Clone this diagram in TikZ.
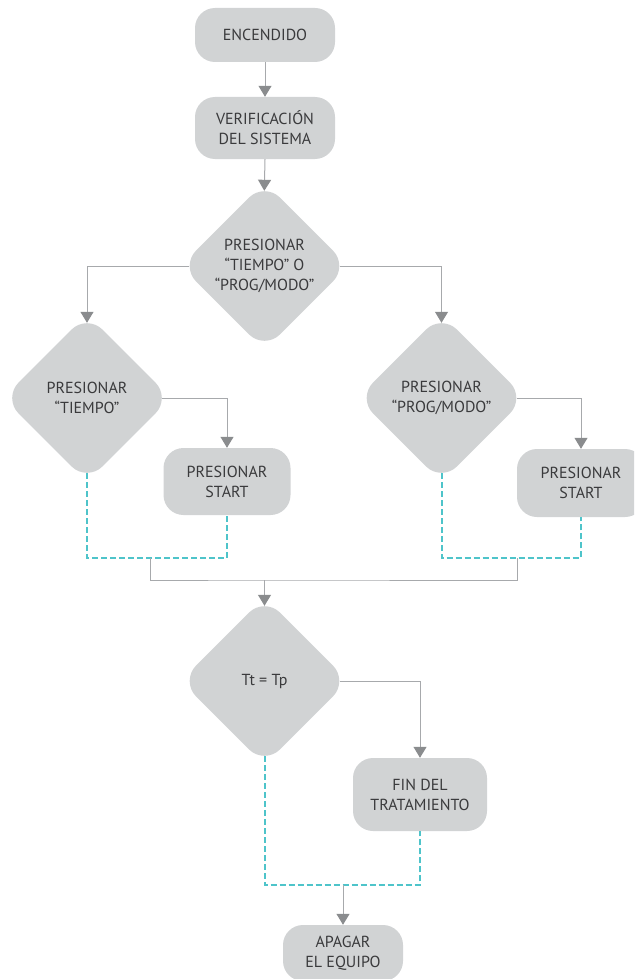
\documentclass[tikz,border=0pt]{standalone}
\usepackage{fontspec}
\setmainfont{PT Sans}
\usetikzlibrary{shapes.geometric,arrows.meta}
\definecolor{boxfill}{HTML}{D1D3D4}
\definecolor{linegray}{HTML}{A7A9AC}
\definecolor{headgray}{HTML}{8A8C8E}
\definecolor{loopteal}{HTML}{4EC4CA}
\definecolor{txt}{HTML}{3A3A3C}
\begin{document}
\begin{tikzpicture}[x=1pt,y=-1pt,
  every node/.style={text=txt, font=\fontsize{16}{20}\selectfont, align=center},
  stepbox/.style={rectangle, rounded corners=20pt, fill=boxfill, inner sep=0pt},
  choice/.style={diamond, aspect=1, rounded corners=22pt, fill=boxfill,
    minimum width=168pt, minimum height=168pt, inner sep=0pt},
  flow/.style={draw=linegray, line width=1pt,
    -{Triangle[width=13pt,length=11pt,color=headgray]}},
  wire/.style={draw=linegray, line width=1pt},
  back/.style={draw=loopteal, line width=2pt, dash pattern=on 6pt off 3pt},
  fromtip/.style={shorten <=-9pt},
  totip/.style={shorten >=-9pt},
]
\clip (0,0) rectangle (634,979);

% steps and decisions
\node[stepbox, minimum width=140pt, minimum height=54pt] (enc) at (265,35) {ENCENDIDO};
\node[stepbox, minimum width=140pt, minimum height=62pt] (ver) at (265,128) {VERIFICACIÓN\\DEL SISTEMA};
\node[choice] (d1) at (264.5,266) {PRESIONAR\\“TIEMPO” O\\“PROG/MODO”};
\node[choice] (d2) at (87,398) {PRESIONAR\\“TIEMPO”};
\node[choice] (d3) at (441.5,398) {PRESIONAR\\“PROG/MODO”};
\node[stepbox, minimum width=127pt, minimum height=67pt] (s1) at (227,481.5) {PRESIONAR\\START};
\node[stepbox, minimum width=128pt, minimum height=68pt] (s2) at (581,483) {PRESIONAR\\START};
\node[choice] (d4) at (264.5,681) {Tt = Tp};
\node[stepbox, minimum width=134pt, minimum height=73pt] (fin) at (420,794.5) {FIN DEL\\TRATAMIENTO};
\node[stepbox, minimum width=120pt, minimum height=56pt] (off) at (343,953) {APAGAR\\EL EQUIPO};

% junction points
\coordinate (jl) at (0,558);
\coordinate (ml) at (150,558);
\coordinate (mr) at (517,558);
\coordinate (bus) at (264.5,580);
\coordinate (jb) at (0,885);
\coordinate (mb) at (343,885);

% main flow
\draw[flow] (enc.south) -- (ver.north);
\draw[flow, totip] (ver.south) -- (d1.north);
\draw[flow, fromtip, totip] (d1.west) -| (d2.north);
\draw[flow, fromtip, totip] (d1.east) -| (d3.north);
\draw[flow, fromtip] (d2.east) -| (s1.south |- s1.north);
\draw[flow, fromtip] (d3.east) -| (s2.north);

% merging branches
\draw[back, fromtip] (d2.south) -- (d2.south |- jl) -| (s1.south);
\draw[back, fromtip] (d3.south) -- (d3.south |- jl) -| (s2.south);
\draw[wire] (ml) |- (bus) -| (mr);
\draw[flow, totip] (bus) -- (d4.north);

% end of treatment
\draw[flow, fromtip] (d4.east) -| (fin.north);
\draw[back, fromtip] (d4.south) -- (d4.south |- jb) -| (fin.south);
\draw[flow] (mb) -- (off.north);
\end{tikzpicture}
\end{document}
